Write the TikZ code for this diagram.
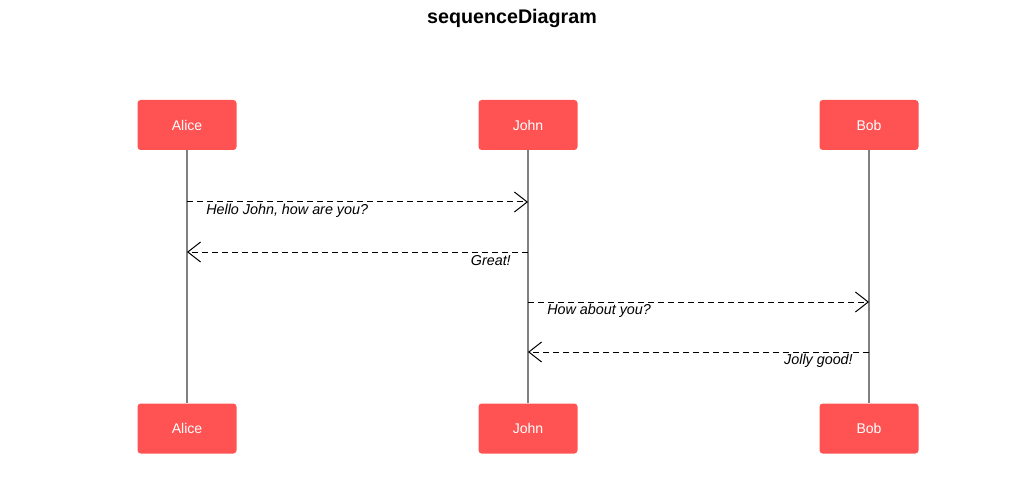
\documentclass[tikz,border=0pt]{standalone}
\usepackage{fontspec}
\setmainfont{Liberation Sans}
\usetikzlibrary{arrows.meta,positioning,calc}
\definecolor{actorred}{HTML}{FF5252}
\definecolor{lifegray}{HTML}{808080}

\begin{document}
\begin{tikzpicture}[x=0.25mm, y=-0.25mm,
  actor/.style={fill=actorred, rounded corners=0.8mm, minimum width=99*0.25mm, minimum height=50*0.25mm,
    text=white, font=\fontsize{10pt}{12pt}\selectfont, inner sep=0pt},
  lifeline/.style={draw=lifegray, line width=0.35mm},
  msg/.style={draw=black, line width=0.25mm, dash pattern=on 1.5mm off 1mm,
    -{Straight Barb[length=3.2mm, width=5mm, line width=0.25mm]}},
  msglabel/.style={font=\fontsize{10.2pt}{12pt}\selectfont\itshape, inner sep=0pt}]
\useasboundingbox (0,0) rectangle (1024,500);
\node[font=\fontsize{14pt}{16pt}\selectfont\bfseries] (title) at (512,18) {sequenceDiagram};
% actors, top and bottom
\node[actor] (aliceTop) at (187,125) {Alice};
\node[actor] (johnTop) at (528,125) {John};
\node[actor] (bobTop) at (869,125) {Bob};
\node[actor] (aliceBot) at (187,428.5) {Alice};
\node[actor] (johnBot) at (528,428.5) {John};
\node[actor] (bobBot) at (869,428.5) {Bob};
\draw[lifeline] (aliceTop) -- (aliceBot);
\draw[lifeline] (johnTop) -- (johnBot);
\draw[lifeline] (bobTop) -- (bobBot);
% message rows
\foreach \i/\y in {1/202,2/252,3/302,4/352} {\coordinate (m\i) at (0,\y);}
\draw[msg] (aliceTop |- m1) -- (johnTop |- m1);
\node[msglabel, anchor=west] (l1) at (206,210.5) {Hello John, how are you?};
\draw[msg] (johnTop |- m2) -- (aliceTop |- m2);
\node[msglabel, anchor=east] (l2) at (511,260.5) {Great!};
\draw[msg] (johnTop |- m3) -- (bobTop |- m3);
\node[msglabel, anchor=west] (l3) at (547,310.5) {How about you?};
\draw[msg] (bobTop |- m4) -- (johnTop |- m4);
\node[msglabel, anchor=east] (l4) at (853,360.5) {Jolly good!};
\end{tikzpicture}
\end{document}
